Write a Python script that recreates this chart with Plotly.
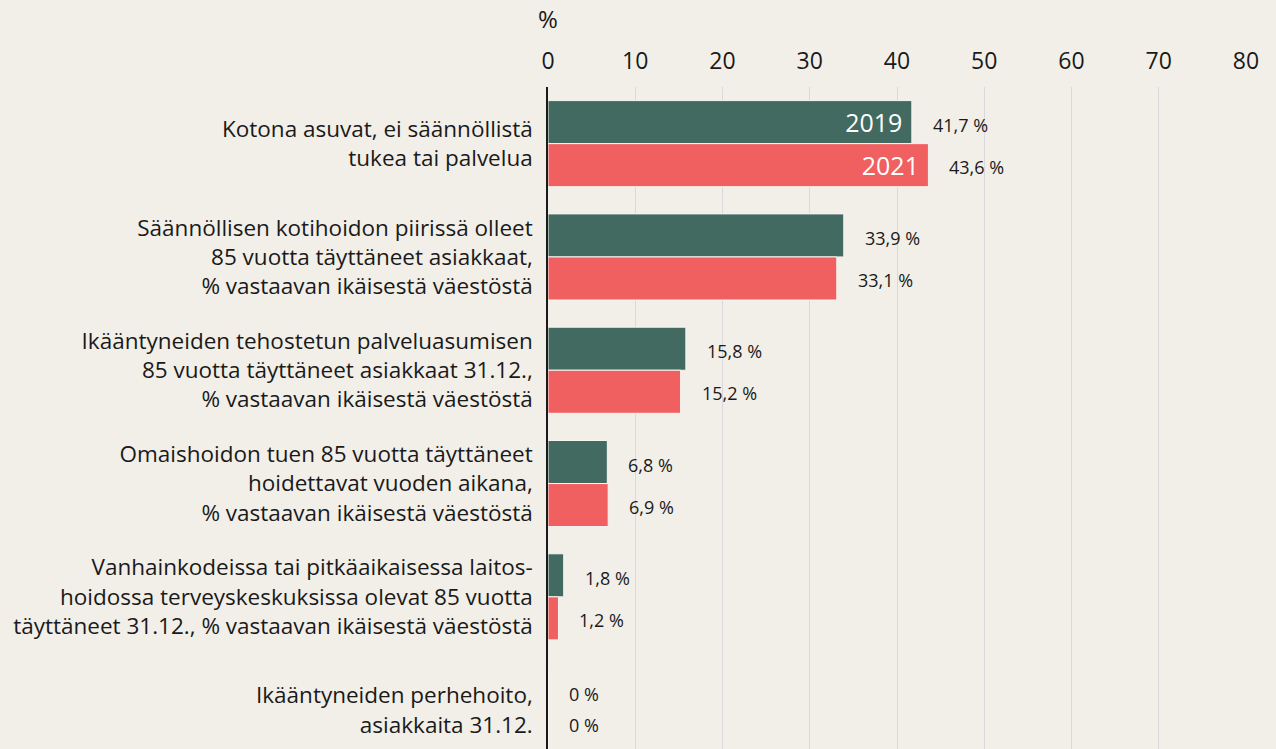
import plotly.graph_objects as go

categories = [
    "Kotona asuvat, ei säännöllistä<br>tukea tai palvelua",
    "Säännöllisen kotihoidon piirissä olleet<br>85 vuotta täyttäneet asiakkaat,<br>% vastaavan ikäisestä väestöstä",
    "Ikääntyneiden tehostetun palveluasumisen<br>85 vuotta täyttäneet asiakkaat 31.12.,<br>% vastaavan ikäisestä väestöstä",
    "Omaishoidon tuen 85 vuotta täyttäneet<br>hoidettavat vuoden aikana,<br>% vastaavan ikäisestä väestöstä",
    "Vanhainkodeissa tai pitkäaikaisessa laitos-<br>hoidossa terveyskeskuksissa olevat 85 vuotta<br>täyttäneet 31.12., % vastaavan ikäisestä väestöstä",
    "Ikääntyneiden perhehoito,<br>asiakkaita 31.12.",
]
values_2019 = [41.7, 33.9, 15.8, 6.8, 1.8, 0]
values_2021 = [43.6, 33.1, 15.2, 6.9, 1.2, 0]
series_names = ["2019", "2021"]
x_ticks = [0, 10, 20, 30, 40, 50, 60, 70, 80]

BG = "#f2efe9"
GREEN = "#426a60"
RED = "#f06060"
FONT = "Open Sans"


def fmt(v):
    if v == 0:
        return "0 %"
    return f"{v:.1f}".replace(".", ",") + " %"


fig = go.Figure()
for name, vals, color in [(series_names[0], values_2019, GREEN), (series_names[1], values_2021, RED)]:
    fig.add_trace(go.Bar(
        name=name, x=vals, y=categories, orientation="h",
        marker=dict(color=color, line=dict(color="#f7f5f1", width=1)),
        text=[name + "\u00a0"] + [""] * (len(vals) - 1),
        textposition="inside", insidetextanchor="end", textangle=0,
        constraintext="none",
        textfont=dict(family=FONT, size=25, color="white"),
        hoverinfo="skip",
    ))

annotations = []
for vals, shift in [(values_2019, 19), (values_2021, -23)]:
    for cat, v in zip(categories, vals):
        s = shift
        if v == 0:
            s = 16 if shift > 0 else -15
        annotations.append(dict(
            x=v, y=cat, xref="x", yref="y", text=fmt(v), showarrow=False,
            xanchor="left", yanchor="middle", xshift=19, yshift=s,
            font=dict(family=FONT, size=18, color="#1a1a1a"),
        ))
annotations.append(dict(
    x=0, y=1, xref="x", yref="paper", text="%", showarrow=False,
    xanchor="center", yanchor="bottom", yshift=50,
    font=dict(family=FONT, size=24, color="#1a1a1a"),
))

fig.update_layout(
    width=1276, height=749,
    paper_bgcolor=BG, plot_bgcolor=BG,
    margin=dict(l=548, r=30, t=87, b=0),
    barmode="group", bargap=0.24, bargroupgap=0,
    showlegend=False,
    font=dict(family=FONT, color="#1a1a1a"),
    annotations=annotations,
    xaxis=dict(
        side="top", range=[0, 80], tickvals=x_ticks,
        showgrid=True, gridcolor="#d9d8dc", gridwidth=1,
        zeroline=False, showline=False, ticks="",
        tickfont=dict(family=FONT, size=23, color="#1a1a1a"),
        ticklabelstandoff=12,
    ),
    yaxis=dict(
        range=[5.343, -0.5], showgrid=False, zeroline=False,
        showline=True, linecolor="#1a1a1a", linewidth=1.5,
        ticks="", ticklabelstandoff=9,
        tickfont=dict(family=FONT, size=22.5, color="#1a1a1a"),
    ),
)

fig.write_html(
    "out.html",
    config={"displayModeBar": False},
    post_script="document.body.style.margin='0';document.body.style.background='#f2efe9';",
)
